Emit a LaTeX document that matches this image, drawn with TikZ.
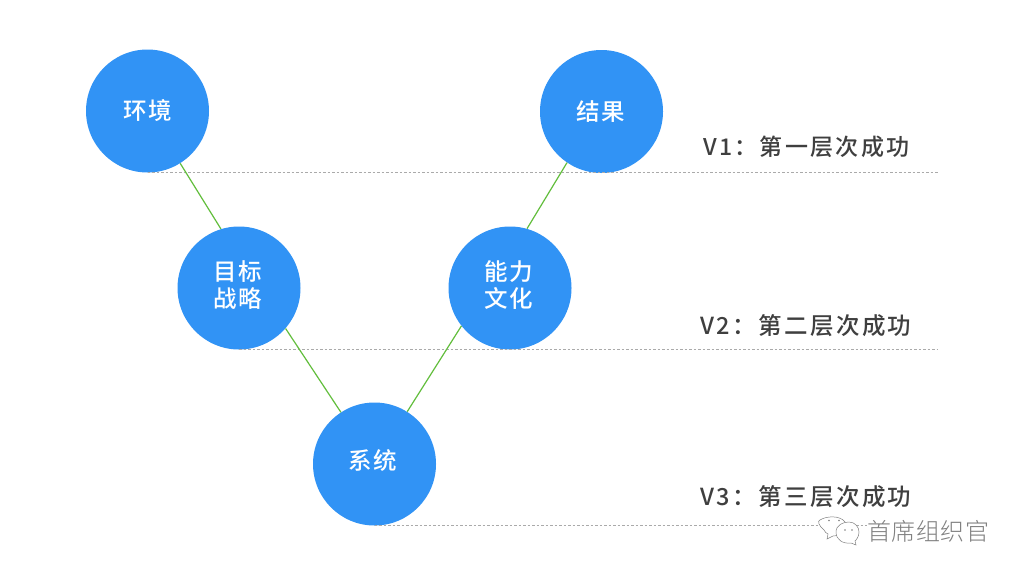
\documentclass[tikz,border=0pt]{standalone}
\usepackage{fontspec}
\setmainfont{Noto Sans CJK SC}
\newfontfamily\circfont[LetterSpace=5]{Noto Sans CJK SC Medium}
\newfontfamily\labfont[LetterSpace=10]{Noto Sans CJK SC Medium}
\newfontfamily\markfont[LetterSpace=2.5]{Noto Sans CJK SC Light}
\definecolor{circblue}{HTML}{3193F5}
\definecolor{linkgreen}{HTML}{62BE3C}
\definecolor{labgray}{HTML}{3F3F3F}
\definecolor{dashgray}{HTML}{AAAAAA}
\definecolor{markgray}{HTML}{808080}
\newcommand{\ct}[3][0pt]{\raisebox{#1}[\height][\depth]{\kern#2 #3}}
\tikzset{
  circ/.style={circle,fill=circblue,minimum size=123pt,inner sep=0pt,text=white,align=center,
    font=\circfont\fontsize{23.5}{26.5}\selectfont},
  link/.style={draw=linkgreen,line width=1.2pt},
  level/.style={draw=dashgray,line width=.6pt,dash pattern=on 2.5pt off 2pt},
  lab/.style={text=labgray,anchor=west,inner sep=0pt,font=\labfont\fontsize{23}{26}\selectfont},
  labwide/.style={lab,font=\labfont\fontsize{23.5}{26}\selectfont},
  markicon/.style={draw=markgray,line width=.5pt,fill=white},
  marktext/.style={text=markgray,anchor=west,inner sep=0pt,font=\markfont\fontsize{24}{26}\selectfont}
}
\begin{document}
\begin{tikzpicture}[x=1pt,y=-1pt]
\useasboundingbox (0,0) rectangle (1024,576);
\fill[white] (0,0) rectangle (1024,576);
\coordinate (e1) at (938,173);
\coordinate (e2) at (938,349.5);
\coordinate (e3) at (867,525.5);
\node[circ] (env) at (147.5,111) {\ct{1pt}{环境}};
\node[circ] (res) at (601.5,111.5) {\ct{-1pt}{结果}};
\node[circ] (goal) at (239,288) {\ct[3pt]{-3pt}{目标}\\\ct[3pt]{-3pt}{战略}};
\node[circ] (cap) at (510,288) {\ct[3pt]{-3pt}{能力}\\\ct[3pt]{-3pt}{文化}};
\node[circ] (sys) at (374.5,464) {\ct[3pt]{-3pt}{系统}};
\draw[level] (env.south) -- (env.south -| e1);
\draw[level] (goal.south) -- (goal.south -| e2);
\draw[level] (sys.south) -- (sys.south -| e3);
\draw[link] (env.-58) -- (goal.107);
\draw[link] (res.236.6) -- (cap.74.8);
\draw[link] (goal.-41) -- (sys.123.6);
\draw[link] (cap.218.5) -- (sys.58);
\node[lab] (l1) at (703,147) {V1：第一层次成功};
\node[labwide] (l2) at (700.5,326) {V2：第二层次成功};
\node[labwide] (l3) at (700.5,497) {V3：第三层次成功};
% watermark icon
\draw[markicon] (824,530) .. controls (819,526) and (817,521) .. (820,520) .. controls (826,516) and (840,515) .. (845,522) .. controls (848,528) and (842,536) .. (833,536) -- (827,539) -- (828,534) .. controls (826,533) and (825,532) .. (824,530) -- cycle;
\fill[markgray] (829,520.5) circle (.8pt) (839,520.5) circle (.8pt);
\draw[markicon] (836,532) .. controls (836,525) and (843,522) .. (849,522) .. controls (855,522) and (859,527) .. (859,532) .. controls (859,537) and (856,540) .. (855,541) -- (856,545) -- (851,543) .. controls (843,544) and (836,540) .. (836,532) -- cycle;
\fill[markgray] (845,530) circle (.8pt) (852,530) circle (.8pt);
\node[marktext] (mk) at (867,531) {首席组织官};
\end{tikzpicture}
\end{document}
